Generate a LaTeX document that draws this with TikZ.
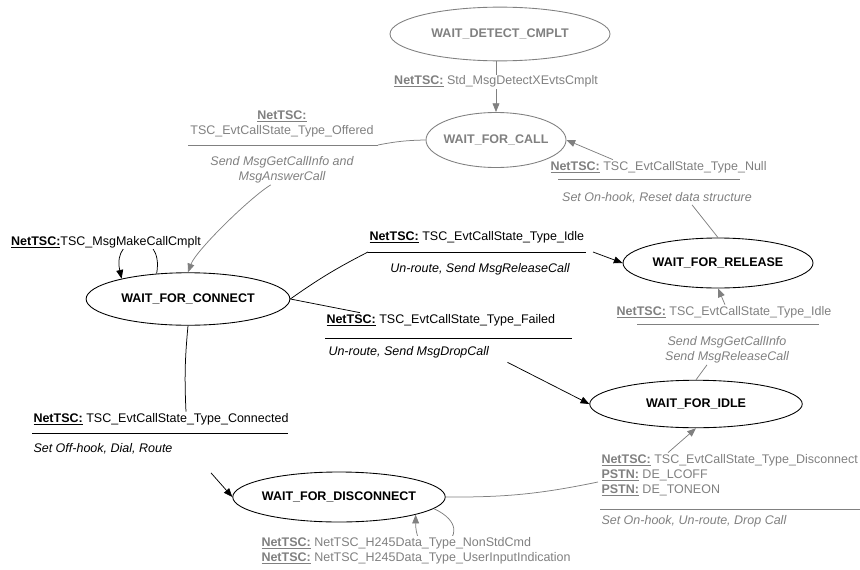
\documentclass[tikz,border=0pt]{standalone}
\usepackage{fontspec}
\setmainfont{Liberation Sans}
\usetikzlibrary{shapes.geometric,arrows.meta,calc}
\definecolor{tgray}{RGB}{128,128,128}
\newcommand{\ev}[1]{\textbf{\underline{#1}}}

\begin{document}
\begin{tikzpicture}[x=0.8pt, y=-0.8pt, font=\normalsize,
  >={Triangle[length=7pt,width=5.5pt]},
  state/.style={ellipse, draw, line width=0.7pt, font=\bfseries,
    inner xsep=-4pt, inner ysep=0pt},
  gstate/.style={state, draw=tgray, text=tgray},
  trans/.style={line width=0.6pt},
  gline/.style={trans, draw=tgray},
  sepline/.style={line width=0.8pt},
  lbl/.style={inner sep=1pt},
  act/.style={font=\itshape, inner sep=1pt},
  gtxt/.style={text=tgray}]
  \useasboundingbox (0,0) rectangle (860,569);

  % ----- states -----
  \node[gstate, minimum width=176pt, minimum height=43pt] (det) at (500,34) {WAIT\_DETECT\_CMPLT};
  \node[gstate, minimum width=112pt, minimum height=44pt] (call) at (496,140) {WAIT\_FOR\_CALL};
  \node[state, minimum width=163pt, minimum height=42pt] (con) at (188,299) {WAIT\_FOR\_CONNECT};
  \node[state, minimum width=152pt, minimum height=40pt] (rel) at (718,263) {WAIT\_FOR\_RELEASE};
  \node[state, minimum width=170pt, minimum height=38pt] (idle) at (696,404) {WAIT\_FOR\_IDLE};
  \node[state, minimum width=170pt, minimum height=40pt] (disc) at (339,497) {WAIT\_FOR\_DISCONNECT};

  % ----- self loops -----
  \draw[trans, ->] (con.141) .. controls +(8,-45) and +(-10,-45) .. (con.163);
  \node[lbl, fill=white] (lMake) at (106,242) {\ev{NetTSC:}TSC\_MsgMakeCallCmplt};
  \draw[gline, ->] (disc.-7) .. controls +(54,25) and +(0,60) .. (disc.-13);
  \node[lbl, gtxt, fill=white, anchor=north west, align=left] (lH245) at (260,536)
    {\ev{NetTSC:} NetTSC\_H245Data\_Type\_NonStdCmd\\\ev{NetTSC:} NetTSC\_H245Data\_Type\_UserInputIndication};

  % ----- detect -> call -----
  \draw[gline, ->] (call.north |- det.south) -- node[lbl, gtxt, fill=white, pos=0.4] (lDet)
    {\ev{NetTSC:} Std\_MsgDetectXEvtsCmplt} (call.north);

  % ----- call -> connect -----
  \node[lbl, gtxt, align=center] (tOff) at (282,124) {\ev{NetTSC:}\\TSC\_EvtCallState\_Type\_Offered};
  \draw[sepline, tgray] (188,145) -- (378,145) coordinate (oR);
  \node[act, gtxt, align=center] (aOff) at (282,170) {Send MsgGetCallInfo and\\MsgAnswerCall};
  \draw[gline] (call.west) to[bend right=5] (oR);
  \draw[gline, ->] (aOff.233) .. controls +(-20,12) and +(8,-22) .. (con.north);

  % ----- release -> call -----
  \node[lbl, gtxt, anchor=west] (tNull) at (549,167) {\ev{NetTSC:} TSC\_EvtCallState\_Type\_Null};
  \draw[sepline, tgray] (558,179) -- (740,179);
  \node[act, gtxt] (aNull) at (657,198) {Set On-hook, Reset data structure};
  \draw[gline] (rel.north) -- ($(aNull.south)+(35,0)$);
  \draw[gline, ->] ($(tNull.north west)+(64,0)$) -- (call.east);

  % ----- connect -> release -----
  \node[lbl, anchor=west] (tIdle) at (368,237) {\ev{NetTSC:} TSC\_EvtCallState\_Type\_Idle};
  \draw[sepline] (368,252) coordinate (iL) -- (586,252) coordinate (iR);
  \node[act] (aIdle) at (480,269) {Un-route, Send MsgReleaseCall};
  \draw[trans] (con.east) to[bend left=4] (iL);
  \draw[trans, ->] ($(iR)+(7,0)$) -- (rel.west);

  % ----- connect -> idle -----
  \node[lbl, anchor=west] (tFail) at (325,320) {\ev{NetTSC:} TSC\_EvtCallState\_Type\_Failed};
  \draw[sepline] (325,338) -- (572,338);
  \node[act, anchor=west] (aFail) at (327,352) {Un-route, Send MsgDropCall};
  \draw[trans] (con.east) -- ($(tFail.north west)+(35,0)$);
  \draw[trans, ->] ($(aFail.south east)+(17,3)$) -- (idle.west);

  % ----- connect -> disconnect -----
  \node[lbl, anchor=west] (tConn) at (32,419) {\ev{NetTSC:} TSC\_EvtCallState\_Type\_Connected};
  \draw[sepline] (32,433) -- (288,433);
  \node[act, anchor=west] (aConn) at (32,449) {Set Off-hook, Dial, Route};
  \draw[trans] (con.south) to[bend right=4] ($(tConn.north)+(25,0)$);
  \draw[trans, ->] ($(aConn.south east)+(37,17)$) -- (disc.west);

  % ----- idle -> release -----
  \node[lbl, gtxt] (tRI) at (724,312) {\ev{NetTSC:} TSC\_EvtCallState\_Type\_Idle};
  \draw[sepline, tgray] (637,324) -- (819,324);
  \node[act, gtxt, align=center] (aRI) at (727,350) {Send MsgGetCallInfo\\Send MsgReleaseCall};
  \draw[gline] (idle.north) -- ($(aRI.south)+(-20,0)$);
  \draw[gline, ->] ($(tRI.north)+(1,0)$) -- (rel.south);

  % ----- disconnect -> idle -----
  \node[lbl, gtxt, anchor=west, align=left] (tDis) at (600,475)
    {\ev{NetTSC:} TSC\_EvtCallState\_Type\_Disconnect\\\ev{PSTN:} DE\_LCOFF\\\ev{PSTN:} DE\_TONEON};
  \draw[sepline, tgray] (600,509) -- (860,509);
  \node[act, gtxt, anchor=west] (aDis) at (600,521) {Set On-hook, Un-route, Drop Call};
  \draw[gline] (disc.east) to[bend right=6] ($(tDis.west)+(-2,7)$);
  \draw[gline, ->] ($(tDis.north west)+(68,0)$) -- (idle.south);
\end{tikzpicture}
\end{document}
